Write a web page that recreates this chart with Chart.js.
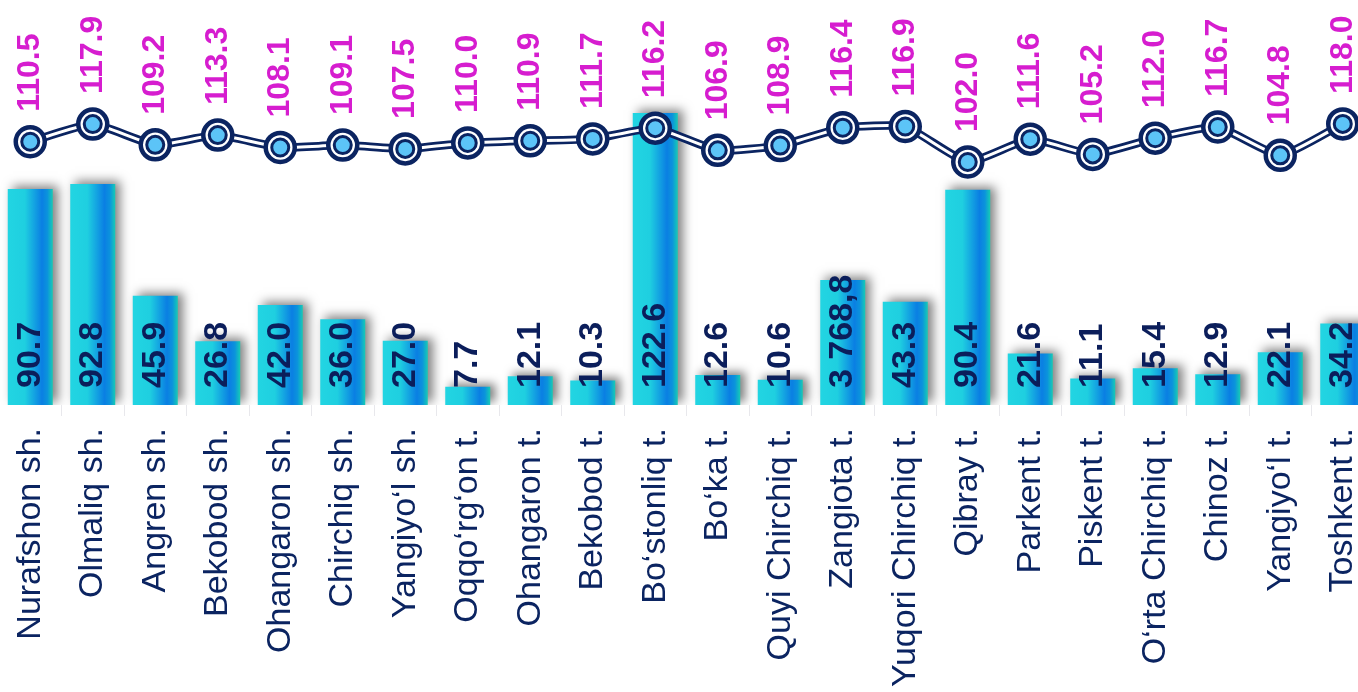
<!DOCTYPE html>
<html>
<head>
<meta charset="utf-8">
<script src="https://cdn.jsdelivr.net/npm/chart.js@4.4.1/dist/chart.umd.min.js"></script>
<style>
  html, body { margin: 0; padding: 0; background: #fff; overflow: hidden; }
  #wrap { position: absolute; left: -1px; top: 0; width: 1375px; height: 692px; }
</style>
</head>
<body>
<div id="wrap"><canvas id="chart"></canvas></div>
<script>
// tumanlar / shaharlar
const categories = [
  'Nurafshon sh.', 'Olmaliq sh.', 'Angren sh.', 'Bekobod sh.', 'Ohangaron sh.',
  'Chirchiq sh.', 'Yangiyo\u2018l sh.', 'Oqqo\u2018rg\u2018on t.', 'Ohangaron t.', 'Bekobod t.',
  'Bo\u2018stonliq t.', 'Bo\u2018ka t.', 'Quyi Chirchiq t.', 'Zangiota t.', 'Yuqori Chirchiq t.',
  'Qibray t.', 'Parkent t.', 'Piskent t.', 'O\u2018rta Chirchiq t.', 'Chinoz t.',
  'Yangiyo\u2018l t.', 'Toshkent t.'
];

// ustunlar balandligi (rasmdan o'qilgan) va ustiga yozilgan qiymatlar
const barValues = [90.7, 92.8, 45.9, 26.8, 42.0, 36.0, 27.0, 7.7, 12.1, 10.3, 122.6,
  12.6, 10.6, 52.5, 43.3, 90.4, 21.6, 11.1, 15.4, 12.9, 22.1, 34.2];
const barLabels = ['90.7', '92.8', '45.9', '26.8', '42.0', '36.0', '27.0', '7.7', '12.1', '10.3', '122.6',
  '12.6', '10.6', '3 768,8', '43.3', '90.4', '21.6', '11.1', '15.4', '12.9', '22.1', '34.2'];

// o'sish sur'ati (chiziq)
const lineValues = [110.5, 117.9, 109.2, 113.3, 108.1, 109.1, 107.5, 110.0, 110.9, 111.7, 116.2,
  106.9, 108.9, 116.4, 116.9, 102.0, 111.6, 105.2, 112.0, 116.7, 104.8, 118.0];

const NAVY = '#0b2461';
const MAGENTA = '#d61dcf';
const BAR_SHARE = 0.72;

// har bir ustun uchun gorizontal gradient
function barGradient(context) {
  const chart = context.chart;
  const xScale = chart.scales.x;
  if (!chart.chartArea || !xScale || context.type !== 'data') {
    return '#1fd3e0';
  }
  const cx = xScale.getPixelForValue(context.dataIndex);
  const half = xScale.width / categories.length * BAR_SHARE / 2;
  const g = chart.ctx.createLinearGradient(cx - half, 0, cx + half, 0);
  g.addColorStop(0, '#22d5e2');
  g.addColorStop(0.38, '#1fcfe0');
  g.addColorStop(0.76, '#0a7fe3');
  g.addColorStop(0.88, '#0b93dc');
  g.addColorStop(1, '#16cbb5');
  return g;
}

// ustunlar soyasi
const barShadow = {
  id: 'barShadow',
  beforeDatasetDraw(chart, args) {
    if (args.index !== 0) return;
    const c = chart.ctx;
    c.save();
    c.shadowColor = 'rgba(0, 0, 0, 0.5)';
    c.shadowBlur = 10;
    c.shadowOffsetX = 5;
    c.shadowOffsetY = -3;
  },
  afterDatasetDraw(chart, args) {
    if (args.index !== 0) return;
    chart.ctx.restore();
  }
};

// vertikal yozuvlar
const valueLabels = {
  id: 'valueLabels',
  afterDatasetsDraw(chart) {
    const c = chart.ctx;
    const bars = chart.getDatasetMeta(0).data;
    const points = chart.getDatasetMeta(4).data;
    c.save();
    c.textAlign = 'left';
    c.textBaseline = 'middle';

    bars.forEach((bar, i) => {
      c.save();
      c.translate(bar.x, bar.base - 17);
      c.rotate(-Math.PI / 2);
      c.font = 'bold 34px "Liberation Sans", Arial, sans-serif';
      c.fillStyle = '#0b1e5b';
      c.fillText(barLabels[i], 0, 0);
      c.restore();
    });

    points.forEach((pt, i) => {
      c.save();
      c.translate(pt.x, pt.y - 30);
      c.rotate(-Math.PI / 2);
      c.font = 'bold 32px "Liberation Sans", Arial, sans-serif';
      c.fillStyle = MAGENTA;
      c.fillText(lineValues[i].toFixed(1), 0, 0);
      c.restore();
    });
    c.restore();
  }
};

const ctx = document.getElementById('chart').getContext('2d');
new Chart(ctx, {
  data: {
    labels: categories,
    datasets: [
      {
        type: 'bar',
        data: barValues,
        backgroundColor: barGradient,
        borderWidth: 0,
        barPercentage: 1,
        categoryPercentage: BAR_SHARE,
        order: 10
      },
      {
        type: 'line',
        data: lineValues,
        borderColor: NAVY,
        borderWidth: 8.5,
        pointRadius: 0,
        tension: 0.15,
        order: 4
      },
      {
        type: 'line',
        data: lineValues,
        borderColor: '#ffffff',
        borderWidth: 3,
        pointRadius: 0,
        tension: 0.15,
        order: 3
      },
      {
        type: 'line',
        data: lineValues,
        showLine: false,
        pointRadius: 14.5,
        pointBorderWidth: 4.5,
        pointBackgroundColor: '#ffffff',
        pointBorderColor: NAVY,
        order: 2
      },
      {
        type: 'line',
        data: lineValues,
        showLine: false,
        pointRadius: 8.5,
        pointBorderWidth: 3,
        pointBackgroundColor: '#5cc4f7',
        pointBorderColor: NAVY,
        order: 1
      }
    ]
  },
  options: {
    responsive: true,
    maintainAspectRatio: false,
    animation: false,
    layout: { padding: 0, autoPadding: false },
    plugins: {
      legend: { display: false },
      tooltip: { enabled: false }
    },
    scales: {
      x: {
        offset: true,
        border: { display: false },
        grid: {
          offset: true,
          drawOnChartArea: false,
          drawTicks: true,
          tickLength: 11,
          color: '#e8e8ec'
        },
        ticks: {
          autoSkip: false,
          minRotation: 90,
          maxRotation: 90,
          padding: 12,
          color: NAVY,
          font: { family: '"Liberation Sans", Arial, sans-serif', size: 34 }
        },
        afterFit(scale) {
          scale.height = 287;
          scale.paddingLeft = 0;
          scale.paddingRight = 0;
        }
      },
      y: {
        display: false,
        min: 0,
        max: 170
      }
    }
  },
  plugins: [barShadow, valueLabels]
});
</script>
</body>
</html>
